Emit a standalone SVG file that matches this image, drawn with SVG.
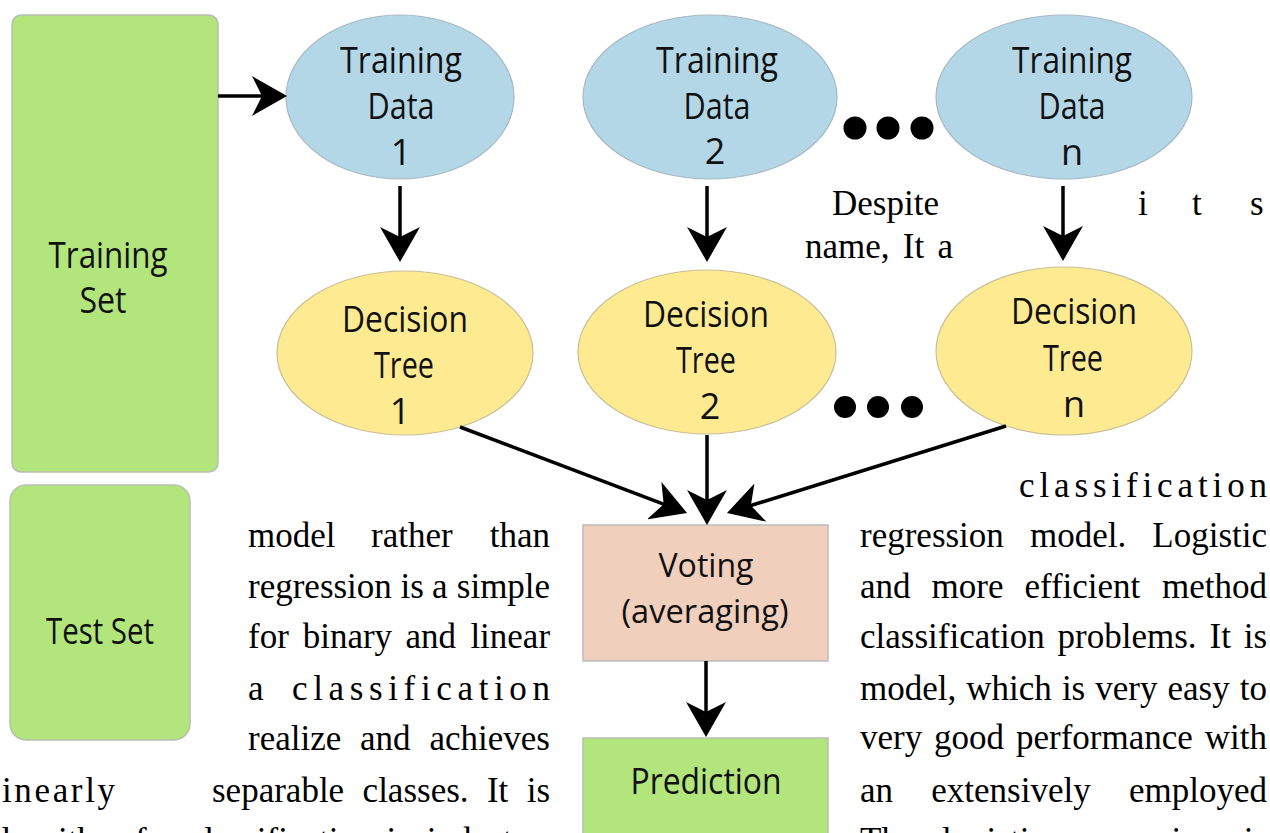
<svg xmlns="http://www.w3.org/2000/svg" width="1270" height="833" viewBox="0 0 1270 833">
  <defs>
    <marker id="head" markerUnits="userSpaceOnUse" viewBox="0 0 36 40" markerWidth="36" markerHeight="40" refX="31" refY="20" orient="auto">
      <path d="M0,0 L35,20 L0,40 L10,20 Z" fill="#000"/>
    </marker>
  </defs>
  <style>
    .set { fill: #b2e57b; stroke: #b9bfb3; stroke-width: 1.5; }
    .data { fill: #b4d7e8; stroke: #a7b8c2; stroke-width: 1.2; }
    .tree { fill: #feea91; stroke: #c8bf98; stroke-width: 1.2; }
    .vote { fill: #f1cfbd; stroke: #bcbcbc; stroke-width: 1.5; }
    .lbl { font-family: "Open Sans", "Noto Sans", sans-serif; font-size: 36px; fill: #111; text-anchor: middle; }
    .small { font-size: 33px; }
    .doc { font-family: "Liberation Serif", "Times New Roman", serif; font-size: 35px; fill: #000; }
    .wire { stroke: #000; stroke-width: 3.5; fill: none; marker-end: url(#head); }
    .dot { fill: #000; }
  </style>

  <!-- data sets -->
  <g id="training-set">
    <rect class="set" x="12" y="15" width="206" height="457" rx="9"/>
    <text class="lbl" x="108" y="268" textLength="119" lengthAdjust="spacingAndGlyphs">Training</text>
    <text class="lbl" x="103" y="313" textLength="47" lengthAdjust="spacingAndGlyphs">Set</text>
  </g>
  <g id="test-set">
    <rect class="set" x="10" y="485" width="180" height="255" rx="16"/>
    <text class="lbl" x="100" y="644" textLength="108" lengthAdjust="spacingAndGlyphs">Test Set</text>
  </g>

  <!-- bootstrap samples -->
  <g id="training-data-1">
    <ellipse class="data" cx="400" cy="97" rx="114" ry="82"/>
    <text class="lbl" x="401" y="73" textLength="122" lengthAdjust="spacingAndGlyphs">Training</text>
    <text class="lbl" x="401" y="119" textLength="67" lengthAdjust="spacingAndGlyphs">Data</text>
    <text class="lbl" x="401" y="165">1</text>
  </g>
  <g id="training-data-2">
    <ellipse class="data" cx="710" cy="97" rx="127" ry="82"/>
    <text class="lbl" x="717" y="73" textLength="122" lengthAdjust="spacingAndGlyphs">Training</text>
    <text class="lbl" x="717" y="119" textLength="67" lengthAdjust="spacingAndGlyphs">Data</text>
    <text class="lbl" x="715" y="164">2</text>
  </g>
  <g id="training-data-n">
    <ellipse class="data" cx="1064" cy="97" rx="128" ry="82"/>
    <text class="lbl" x="1072" y="73" textLength="120" lengthAdjust="spacingAndGlyphs">Training</text>
    <text class="lbl" x="1072" y="119" textLength="67" lengthAdjust="spacingAndGlyphs">Data</text>
    <text class="lbl" x="1072" y="165">n</text>
  </g>
  <g id="data-ellipsis">
    <circle class="dot" cx="855" cy="128" r="11.5"/>
    <circle class="dot" cx="888" cy="128" r="11.5"/>
    <circle class="dot" cx="922" cy="128" r="11.5"/>
  </g>

  <!-- trees -->
  <g id="decision-tree-1">
    <ellipse class="tree" cx="405" cy="353" rx="128" ry="82"/>
    <text class="lbl" x="405" y="332" textLength="126" lengthAdjust="spacingAndGlyphs">Decision</text>
    <text class="lbl" x="404" y="378" textLength="60" lengthAdjust="spacingAndGlyphs">Tree</text>
    <text class="lbl" x="400" y="424">1</text>
  </g>
  <g id="decision-tree-2">
    <ellipse class="tree" cx="707" cy="352" rx="129" ry="82"/>
    <text class="lbl" x="706" y="327" textLength="126" lengthAdjust="spacingAndGlyphs">Decision</text>
    <text class="lbl" x="706" y="373" textLength="60" lengthAdjust="spacingAndGlyphs">Tree</text>
    <text class="lbl" x="710" y="419">2</text>
  </g>
  <g id="decision-tree-n">
    <ellipse class="tree" cx="1064" cy="351" rx="128" ry="84"/>
    <text class="lbl" x="1074" y="324" textLength="126" lengthAdjust="spacingAndGlyphs">Decision</text>
    <text class="lbl" x="1073" y="371" textLength="60" lengthAdjust="spacingAndGlyphs">Tree</text>
    <text class="lbl" x="1074" y="417">n</text>
  </g>
  <g id="tree-ellipsis">
    <circle class="dot" cx="845" cy="407" r="11"/>
    <circle class="dot" cx="878" cy="407" r="11"/>
    <circle class="dot" cx="912" cy="407" r="11"/>
  </g>

  <!-- aggregation -->
  <g id="voting">
    <rect class="vote" x="583" y="525" width="245" height="136"/>
    <text class="lbl small" x="706" y="577" textLength="95" lengthAdjust="spacingAndGlyphs">Voting</text>
    <text class="lbl small" x="705" y="623" textLength="167" lengthAdjust="spacingAndGlyphs">(averaging)</text>
  </g>
  <g id="prediction">
    <rect class="set" x="583" y="738" width="245" height="110"/>
    <text class="lbl" x="706" y="794" textLength="151" lengthAdjust="spacingAndGlyphs">Prediction</text>
  </g>

  <!-- connectors -->
  <g id="connectors">
    <line class="wire" x1="218" y1="96" x2="283" y2="96"/>
    <line class="wire" x1="400" y1="186" x2="400" y2="258"/>
    <line class="wire" x1="707" y1="186" x2="707" y2="258"/>
    <line class="wire" x1="1063" y1="186" x2="1063" y2="257"/>
    <line class="wire" x1="460" y1="427" x2="683.3" y2="511.6"/>
    <line class="wire" x1="707" y1="435" x2="707" y2="521"/>
    <line class="wire" x1="1006" y1="426" x2="730.8" y2="511.8"/>
    <line class="wire" x1="706" y1="661" x2="706" y2="733"/>
  </g>

  <!-- surrounding body text -->
  <g id="body-text" class="doc">
    <text x="832" y="215">Despite</text>
    <text x="1138 1192 1250" y="215">its</text>
    <text y="258"><tspan x="805">name,</tspan><tspan x="902.8">It</tspan><tspan x="937.4">a</tspan></text>

    <text x="1019" y="497" textLength="248" lengthAdjust="spacing">classification</text>

    <text y="547"><tspan x="248">model</tspan><tspan x="371">rather</tspan><tspan x="489.7">than</tspan></text>
    <text y="547"><tspan x="860">regression</tspan><tspan x="1030">model.</tspan><tspan x="1152.3">Logistic</tspan></text>

    <text y="598"><tspan x="248">regression</tspan><tspan x="400.6">is</tspan><tspan x="432">a</tspan><tspan x="456.8">simple</tspan></text>
    <text y="598"><tspan x="860">and</tspan><tspan x="931.5">more</tspan><tspan x="1024.4">efficient</tspan><tspan x="1162">method</tspan></text>

    <text y="648"><tspan x="248">for</tspan><tspan x="302.7">binary</tspan><tspan x="405.5">and</tspan><tspan x="470.4">linear</tspan></text>
    <text y="648"><tspan x="860">classification</tspan><tspan x="1057.6">problems.</tspan><tspan x="1209.5">It</tspan><tspan x="1243.8">is</tspan></text>

    <text y="700"><tspan x="248">a</tspan></text>
    <text x="292" y="700" textLength="258" lengthAdjust="spacing">classification</text>
    <text y="700"><tspan x="860">model,</tspan><tspan x="966.3">which</tspan><tspan x="1061.9">is</tspan><tspan x="1095.3">very</tspan><tspan x="1167.5">easy</tspan><tspan x="1239.8">to</tspan></text>

    <text y="750"><tspan x="248">realize</tspan><tspan x="360">and</tspan><tspan x="429.5">achieves</tspan></text>
    <text y="749"><tspan x="860">very</tspan><tspan x="934.1">good</tspan><tspan x="1016">performance</tspan><tspan x="1204.8">with</tspan></text>

    <text x="2" y="802" textLength="113" lengthAdjust="spacing">inearly</text>
    <text y="802"><tspan x="212">separable</tspan><tspan x="362.6">classes.</tspan><tspan x="486.9">It</tspan><tspan x="526.7">is</tspan></text>
    <text y="802"><tspan x="860">an</tspan><tspan x="931.3">extensively</tspan><tspan x="1129">employed</tspan></text>

    <text y="852"><tspan x="-14">algorithm</tspan><tspan x="135">for</tspan><tspan x="188.8">classification</tspan><tspan x="386.5">in</tspan><tspan x="426.7">industry.</tspan></text>
    <text y="852"><tspan x="860">The</tspan><tspan x="941.9">logistic</tspan><tspan x="1072.4">regression</tspan><tspan x="1243.8">is</tspan></text>
  </g>
</svg>
